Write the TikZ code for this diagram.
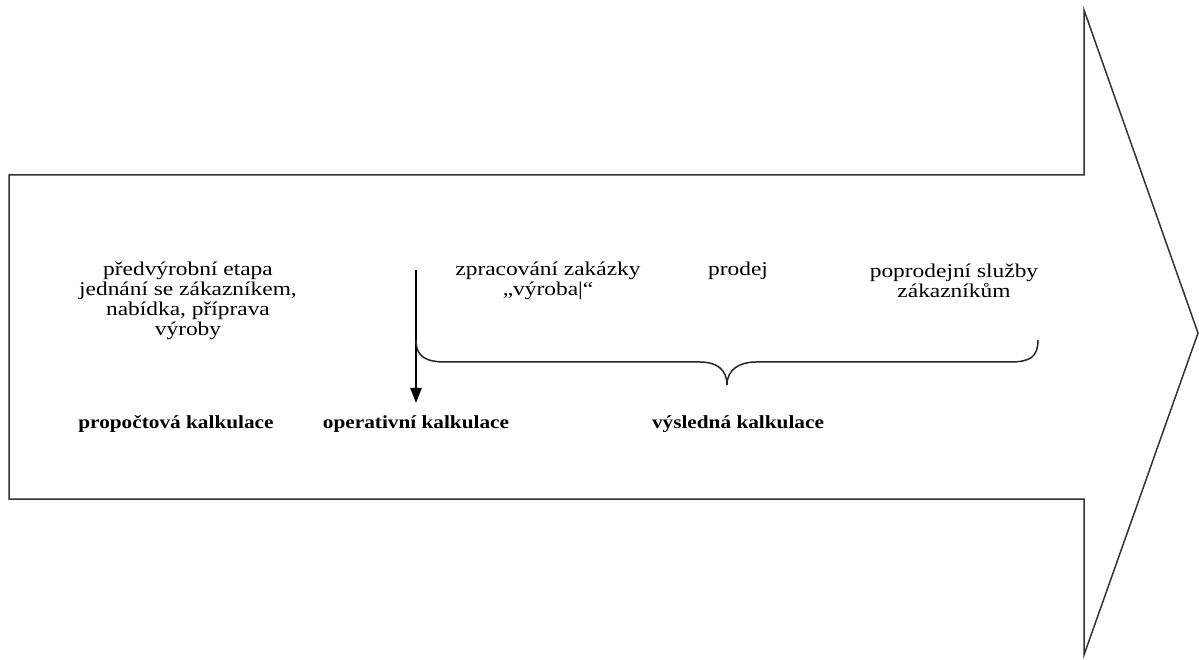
\documentclass[tikz,border=0pt]{standalone}
\usepackage{fontspec}
\setmainfont{Liberation Serif}
\usetikzlibrary{arrows.meta}
\begin{document}
\begin{tikzpicture}[x=1pt,y=1pt,
  txt/.style={font=\fontsize{19.5}{20}\selectfont, align=center, xscale=1.2, transform shape, inner sep=0pt},
  btxt/.style={font=\fontsize{18.5}{20}\selectfont\bfseries, align=center, xscale=1.15, transform shape, inner sep=0pt},
  outline/.style={draw=black!80, line width=1.5pt, line join=miter},
  conn/.style={draw=black, line width=2.2pt, -{Triangle[length=15pt,width=11pt]}},
  bracestyle/.style={draw=black!85, line width=1.5pt}
]
\useasboundingbox (0,0) rectangle (1199,659);
% big arrow
\draw[outline] (9,484) -- (1084,484) -- (1084,649) -- (1198,326) -- (1084,4) -- (1084,160) -- (9,160) -- cycle;
% texts
\node[txt] (pre) at (188,358) {předvýrobní etapa\\jednání se zákazníkem,\\nabídka, příprava\\výroby};
\node[txt] (zprac) at (548,378) {zpracování zakázky\\„výroba|“};
\node[txt] (prodej) at (738,388) {prodej};
\node[txt] (poprod) at (954,378) {poprodejní služby\\zákazníkům};
\node[btxt] (propoc) at (176,235) {propočtová kalkulace};
\node[btxt] (oper) at (416,235) {operativní kalkulace};
\node[btxt] (vysl) at (738,235) {výsledná kalkulace};
% down arrow
\coordinate (atop) at (416,389);
\coordinate (atip) at (416,256);
\draw[conn] (atop) -- (atip);
% brace
\coordinate (bl) at (416,319);
\coordinate (br) at (1038,319);
\coordinate (bm) at (727,274);
\draw[bracestyle] (bl) .. controls (416,302) and (426,297) .. (446,297)
  -- (700,297) .. controls (716,297) and (727,290) .. (bm)
  .. controls (727,290) and (740,297) .. (756,297)
  -- (1010,297) .. controls (1030,297) and (1038,302) .. (br);
\end{tikzpicture}
\end{document}
